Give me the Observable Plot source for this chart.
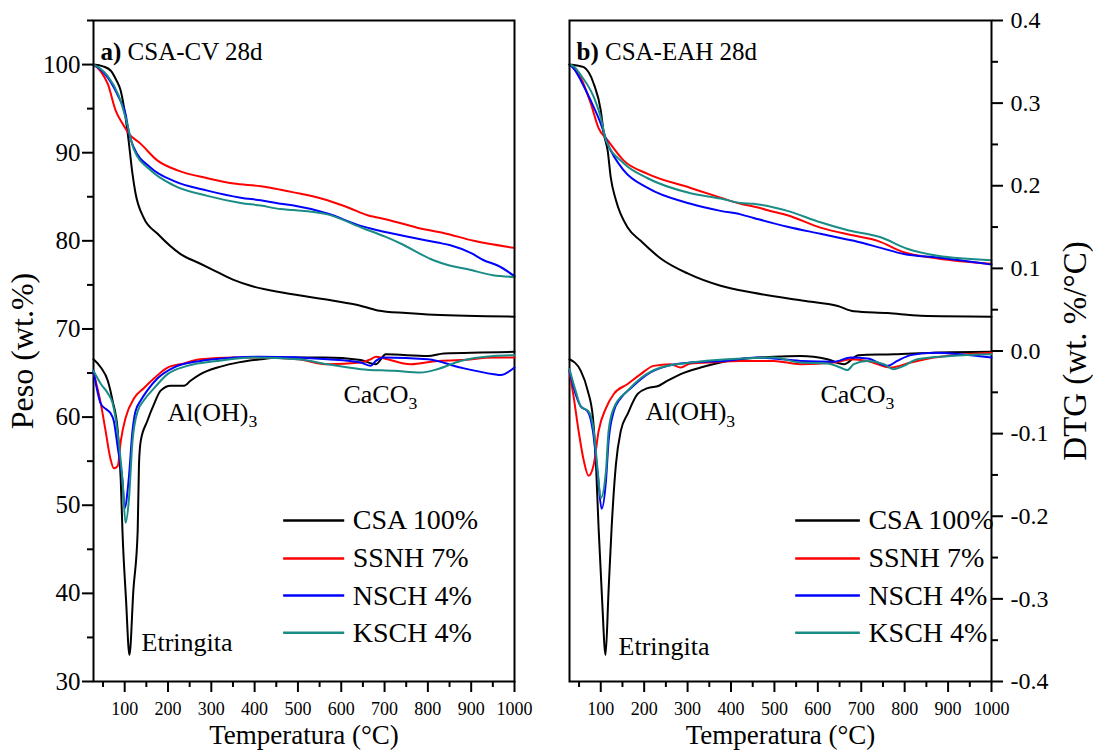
<!DOCTYPE html>
<html><head><meta charset="utf-8">
<script src="https://cdn.jsdelivr.net/npm/d3@7"></script>
<script src="https://cdn.jsdelivr.net/npm/@observablehq/plot@0.6"></script>
<style>
body{margin:0;background:#fff;}
#chart{position:relative;width:1093px;height:756px;background:#fff;}
#chart svg{position:absolute;left:0;top:0;}
</style></head><body><div id="chart"></div>
<script>
// ---------- data ----------
const seriesNames = ["CSA 100%", "SSNH 7%", "NSCH 4%", "KSCH 4%"];
const seriesColors = ["#000000", "#ff0000", "#0000ff", "#1a8c86"];
const panelTitles = ["a) CSA-CV 28d", "b) CSA-EAH 28d"];
const xTicks = [100, 200, 300, 400, 500, 600, 700, 800, 900, 1000];
const xMinorTicks = [50, 150, 250, 350, 450, 550, 650, 750, 850, 950];
const pesoTicks = [30, 40, 50, 60, 70, 80, 90, 100];
const pesoMinorTicks = [35, 45, 55, 65, 75, 85, 95, 105];
const dtgTicks = [-0.4, -0.3, -0.2, -0.1, 0.0, 0.1, 0.2, 0.3, 0.4];
const dtgMinorTicks = [-0.35, -0.25, -0.15, -0.05, 0.05, 0.15, 0.25, 0.35];

// Panel a) CSA-CV 28d : TG (wt.%)
const tgCV_CSA = [[28,100],[50,99.8],[68,99.3],[80,98.3],[91,97.0],[102,94.0],[109,91.4],[118,87.6],[125,85.4],[144,82.6],[176,80.8],[229,78.5],[275,77.4],[300,76.8],[350,75.6],[391,74.9],[467,74.1],[582,73.2],[640,72.7],[684,72.1],[750,71.8],[813,71.6],[1000,71.4]];
const tgCV_SSNH = [[28,100],[45,99.2],[61,97.8],[79,94.8],[95,93.3],[109,92.2],[137,91.0],[176,89.1],[222,88.0],[291,87.1],[352,86.5],[414,86.2],[460,85.8],[490,85.5],[568,84.6],[620,83.7],[661,82.9],[707,82.4],[783,81.4],[836,80.9],[906,80.0],[1000,79.2]];
const tgCV_NSCH = [[28,100],[45,99.4],[61,98.5],[86,96.3],[102,94.4],[110,92.2],[121,90.6],[160,88.3],[213,86.8],[291,85.7],[368,84.9],[414,84.6],[460,84.2],[490,84.0],[568,83.1],[645,81.7],[684,81.2],[760,80.4],[822,79.8],[852,79.5],[900,78.6],[929,77.8],[961,77.2],[1000,76.0]];
const tgCV_KSCH = [[28,100],[45,99.5],[61,98.7],[86,96.5],[102,94.0],[121,90.4],[160,88.0],[213,86.3],[291,85.1],[368,84.3],[414,84.0],[460,83.6],[490,83.5],[568,83.0],[652,81.4],[700,80.5],[737,79.7],[813,77.8],[850,77.2],[890,76.8],[950,76.1],[1000,75.9]];
// Panel a) : DTG (wt.%/°C)
const dtgCV_CSA = [[28,-0.01],[45,-0.02],[61,-0.036],[72,-0.06],[84,-0.097],[91,-0.157],[95,-0.22],[103,-0.30],[111,-0.368],[120,-0.29],[130,-0.218],[133,-0.137],[137,-0.109],[152,-0.085],[168,-0.064],[183,-0.048],[206,-0.042],[237,-0.042],[252,-0.036],[275,-0.028],[314,-0.02],[352,-0.015],[414,-0.01],[460,-0.008],[560,-0.008],[645,-0.011],[680,-0.016],[703,-0.004],[800,-0.006],[837,-0.003],[1000,-0.001]];
const dtgCV_SSNH = [[28,-0.026],[45,-0.064],[56,-0.097],[67,-0.13],[75,-0.142],[84,-0.139],[91,-0.109],[102,-0.081],[122,-0.057],[144,-0.045],[168,-0.033],[199,-0.02],[237,-0.015],[275,-0.01],[352,-0.008],[414,-0.008],[500,-0.01],[568,-0.016],[645,-0.014],[668,-0.01],[680,-0.007],[700,-0.009],[760,-0.016],[822,-0.012],[875,-0.011],[952,-0.008],[1000,-0.008]];
const dtgCV_NSCH = [[28,-0.024],[45,-0.064],[56,-0.07],[67,-0.075],[75,-0.085],[84,-0.117],[95,-0.157],[100,-0.19],[109,-0.157],[118,-0.097],[125,-0.073],[137,-0.06],[152,-0.048],[176,-0.033],[213,-0.02],[275,-0.012],[352,-0.008],[414,-0.007],[568,-0.01],[645,-0.014],[668,-0.018],[680,-0.012],[698,-0.008],[800,-0.01],[875,-0.02],[952,-0.028],[968,-0.029],[1000,-0.02]];
const dtgCV_KSCH = [[28,-0.024],[45,-0.04],[61,-0.051],[72,-0.063],[84,-0.1],[95,-0.157],[102,-0.208],[110,-0.178],[118,-0.109],[130,-0.073],[144,-0.06],[168,-0.045],[199,-0.028],[245,-0.018],[314,-0.012],[398,-0.008],[500,-0.01],[568,-0.016],[645,-0.022],[722,-0.024],[783,-0.026],[822,-0.022],[875,-0.012],[952,-0.006],[1000,-0.005]];

// Panel b) CSA-EAH 28d : TG (wt.%)
const tgEAH_CSA = [[28,100],[45,99.9],[61,99.7],[84,97.8],[100,94.8],[107,92.2],[116,90.2],[123,87.2],[135,84.6],[162,81.5],[192,80.0],[238,78.0],[300,76.3],[376,74.9],[452,74.1],[567,73.2],[646,72.6],[683,72.0],[761,71.8],[837,71.5],[1000,71.4]];
const tgEAH_SSNH = [[28,100],[40,99.6],[54,98.5],[77,95.6],[95,92.8],[116,91.4],[153,89.1],[208,87.6],[307,86.0],[376,84.9],[422,84.2],[452,83.9],[498,83.3],[530,82.9],[606,81.5],[683,80.6],[738,80.0],[798,78.7],[876,78.0],[1000,77.4]];
const tgEAH_NSCH = [[28,100],[40,99.4],[54,98.2],[77,95.9],[100,93.3],[116,91.0],[153,88.0],[208,86.0],[307,84.2],[376,83.4],[422,83.0],[452,82.6],[530,81.6],[606,80.8],[683,80.0],[745,79.2],[798,78.5],[876,78.1],[1000,77.3]];
const tgEAH_KSCH = [[28,100],[40,99.7],[54,98.8],[84,96.3],[100,94.0],[112,91.4],[153,88.8],[208,87.1],[307,85.4],[376,84.8],[422,84.3],[452,84.2],[530,83.4],[606,82.1],[669,81.2],[745,80.4],[806,79.1],[876,78.3],[1000,77.8]];
// Panel b) : DTG (wt.%/°C)
const dtgEAH_CSA = [[28,-0.01],[54,-0.024],[70,-0.048],[82,-0.081],[89,-0.137],[95,-0.214],[103,-0.30],[111,-0.368],[118,-0.29],[125,-0.214],[135,-0.137],[146,-0.097],[162,-0.076],[185,-0.052],[208,-0.045],[234,-0.042],[254,-0.036],[284,-0.028],[330,-0.02],[392,-0.012],[498,-0.007],[560,-0.006],[622,-0.01],[660,-0.016],[694,-0.005],[775,-0.004],[867,-0.002],[1000,-0.001]];
const dtgEAH_SSNH = [[28,-0.024],[38,-0.057],[49,-0.097],[61,-0.133],[72,-0.151],[84,-0.137],[95,-0.097],[112,-0.069],[130,-0.052],[162,-0.04],[192,-0.028],[222,-0.018],[261,-0.016],[284,-0.02],[307,-0.015],[346,-0.014],[422,-0.012],[498,-0.012],[560,-0.016],[637,-0.014],[676,-0.01],[714,-0.012],[768,-0.02],[814,-0.014],[867,-0.008],[1000,-0.002]];
const dtgEAH_NSCH = [[28,-0.024],[42,-0.052],[54,-0.067],[70,-0.073],[82,-0.097],[93,-0.149],[102,-0.191],[112,-0.157],[118,-0.109],[130,-0.073],[146,-0.057],[169,-0.045],[208,-0.028],[254,-0.018],[307,-0.014],[383,-0.012],[461,-0.008],[560,-0.012],[637,-0.013],[676,-0.008],[714,-0.009],[761,-0.018],[783,-0.012],[814,-0.005],[867,-0.002],[1000,-0.008]];
const dtgEAH_KSCH = [[28,-0.022],[42,-0.048],[54,-0.067],[72,-0.073],[84,-0.097],[93,-0.145],[100,-0.178],[112,-0.145],[118,-0.097],[130,-0.069],[162,-0.048],[192,-0.033],[238,-0.02],[307,-0.014],[392,-0.01],[498,-0.008],[560,-0.014],[622,-0.015],[652,-0.02],[668,-0.023],[683,-0.016],[714,-0.012],[752,-0.016],[775,-0.022],[798,-0.018],[829,-0.01],[906,-0.006],[1000,-0.004]];

// annotations (temperature, DTG value, text)
const annotCV = [[199,-0.075,"Al(OH)_3"],[605,-0.053,"CaCO_3"],[139,-0.353,"Etringita"]];
const annotEAH = [[203,-0.074,"Al(OH)_3"],[606,-0.053,"CaCO_3"],[141,-0.358,"Etringita"]];
// legend rows (DTG value positions) and line spans (temperature)
const legendY = [-0.205, -0.251, -0.296, -0.341];
const legendSpanCV = [467, 608];
const legendSpanEAH = [549, 698];

// ---------- build ----------
const W = 1093, H = 756, MT = 20, MB = 75;
const FONT = "'Liberation Serif', 'Times New Roman', serif";
const rows = (arrs) => arrs.flatMap((a, i) => a.map(([t, v]) => ({t, v, name: seriesNames[i]})));
const color = {domain: seriesNames, range: seriesColors};

const panels = [
  {ml: 93, mr: W - 514, tg: [tgCV_CSA, tgCV_SSNH, tgCV_NSCH, tgCV_KSCH], dtg: [dtgCV_CSA, dtgCV_SSNH, dtgCV_NSCH, dtgCV_KSCH], annot: annotCV, span: legendSpanCV, title: panelTitles[0], left: true},
  {ml: 569, mr: W - 991, tg: [tgEAH_CSA, tgEAH_SSNH, tgEAH_NSCH, tgEAH_KSCH], dtg: [dtgEAH_CSA, dtgEAH_SSNH, dtgEAH_NSCH, dtgEAH_KSCH], annot: annotEAH, span: legendSpanEAH, title: panelTitles[1], left: false}
];

const chart = document.getElementById("chart");
const common = (p) => ({
  width: W, height: H, marginTop: MT, marginBottom: MB, marginLeft: p.ml, marginRight: p.mr,
  style: {fontFamily: FONT, background: "transparent", color: "black", overflow: "visible"},
  color
});

for (const p of panels) {
  // TG layer
  const tgMarks = [
    Plot.line(rows(p.tg), {x: "t", y: "v", stroke: "name", strokeWidth: 2, curve: "monotone-x"}),
    Plot.axisX(xTicks, {tickSize: 11, tickPadding: 10, fontSize: 18, label: null, strokeWidth: 2, tickFormat: d => String(d)}),
    Plot.axisX(xMinorTicks, {tickSize: 6, tickFormat: () => "", label: null, strokeWidth: 2}),
    Plot.text(["Temperatura (°C)"], {text: d => d, frameAnchor: "bottom", textAnchor: "middle", dy: 62, fontSize: 27}),
    Plot.text([p.title], {text: d => d, frameAnchor: "top-left", textAnchor: "start", dx: 7, dy: 22, fontSize: 25}),
    Plot.frame({stroke: "black", strokeWidth: 2})
  ];
  if (p.left) {
    tgMarks.push(
      Plot.axisY(pesoTicks, {anchor: "left", tickSize: 11, tickPadding: 2, fontSize: 25, label: null, strokeWidth: 2, tickFormat: d => String(d)}),
      Plot.axisY(pesoMinorTicks, {anchor: "left", tickSize: 6, tickFormat: () => "", label: null, strokeWidth: 2}),
      Plot.text(["Peso (wt.%)"], {text: d => d, frameAnchor: "left", textAnchor: "middle", rotate: -90, dx: -71, fontSize: 32})
    );
  }
  const tg = Plot.plot({
    ...common(p),
    x: {domain: [28, 1000]},
    y: p.left ? {domain: [30, 105]} : {domain: [30, 105], axis: null},
    marks: tgMarks
  });

  // DTG layer
  const legendRows = seriesNames.map((name, i) => ({name, v: legendY[i], x1: p.span[0], x2: p.span[1]}));
  const dtgMarks = [
    Plot.line(rows(p.dtg), {x: "t", y: "v", stroke: "name", strokeWidth: 2, curve: "monotone-x"}),
    Plot.text(p.annot, {x: d => d[0], y: d => d[1], text: d => d[2], textAnchor: "start", fontSize: 26}),
    Plot.ruleY(legendRows, {y: "v", x1: "x1", x2: "x2", stroke: "name", strokeWidth: 2.5}),
    Plot.text(legendRows, {x: "x2", y: "v", text: "name", textAnchor: "start", dx: 8, fontSize: 28})
  ];
  if (!p.left) {
    dtgMarks.push(
      Plot.axisY(dtgTicks, {anchor: "right", tickSize: 11, tickPadding: 8, fontSize: 24, label: null, strokeWidth: 2, tickFormat: d => d.toFixed(1)}),
      Plot.axisY(dtgMinorTicks, {anchor: "right", tickSize: 6, tickFormat: () => "", label: null, strokeWidth: 2}),
      Plot.text(["DTG (wt. %/°C)"], {text: d => d, frameAnchor: "right", textAnchor: "middle", rotate: -90, dx: 84, fontSize: 33})
    );
  }
  const dtg = Plot.plot({
    ...common(p),
    x: {domain: [28, 1000], axis: null},
    y: p.left ? {domain: [-0.4, 0.4], axis: null} : {domain: [-0.4, 0.4]},
    marks: dtgMarks
  });

  for (const svg of [tg, dtg]) {
    d3.select(svg).selectAll("text").each(function () {
      const s = this.textContent;
      let m = s.match(/^(.*)_(\d)$/);
      if (m) {
        this.textContent = m[1];
        d3.select(this).append("tspan").attr("font-size", "0.68em").attr("dy", "0.35em").text(m[2]);
        return;
      }
      m = s.match(/^([ab]\))\s(.*)$/);
      if (m) {
        this.textContent = "";
        d3.select(this).append("tspan").attr("font-weight", "bold").text(m[1]);
        d3.select(this).append("tspan").text(" " + m[2]);
      }
    });
    chart.appendChild(svg);
  }
}
</script></body></html>
